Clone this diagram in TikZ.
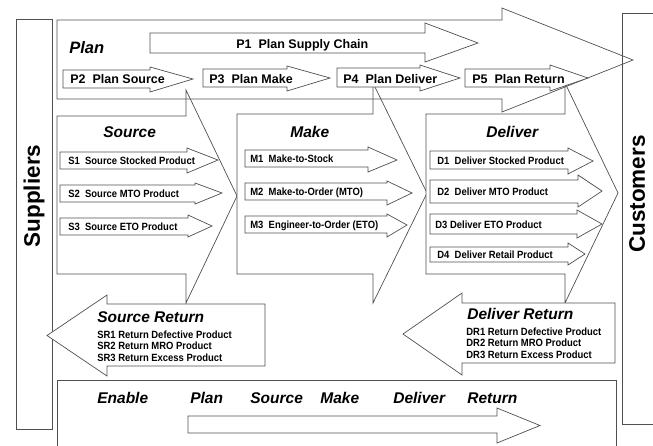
\documentclass[tikz,border=0pt]{standalone}
\usepackage{fontspec}
\setmainfont{Liberation Sans}
\newfontfamily\narrowsans[FakeStretch=0.9]{Liberation Sans}
\usepackage{tikz}
\definecolor{rim}{RGB}{80, 80, 80}

% block arrow: x start, body top, body bottom, head x, head top, head bottom, tip x, tip y
\newcommand{\blockarrow}[8]{%
  \filldraw [blk] (#1, #2) -- (#4, #2) -- (#4, #5) -- (#7, #8) -- (#4, #6) -- (#4, #3) -- (#1, #3) -- cycle;}

\begin{document}
\begin{tikzpicture}[x=1pt, y=-1pt, line width=0.7pt,
    blk/.style={draw=rim, fill=white},
    ttl/.style={font=\bfseries\itshape\fontsize{15.5}{18}\selectfont, anchor=base west, inner sep=0pt},
    ptag/.style={font=\bfseries\fontsize{12.5}{14}\selectfont, anchor=base west, inner sep=0pt},
    itm/.style={font=\narrowsans\bfseries\fontsize{10.5}{12}\selectfont, anchor=base west, inner sep=0pt},
    sidelbl/.style={font=\bfseries\fontsize{22.5}{26}\selectfont, rotate=90, inner sep=0pt}]
  \useasboundingbox (0, 0) rectangle (653, 445);

  \draw [draw=rim] (16, 19) rectangle (52, 429);
  \node [sidelbl] (suppliers) at (34, 196) {Suppliers};
  \draw [draw=rim] (622, 13) rectangle (660, 424);
  \node [sidelbl] (customers) at (637, 194) {Customers};

  \blockarrow{57}{116}{274}{186}{90}{303}{237}{196}
  \blockarrow{237}{114}{274}{373}{83}{303}{427}{193}
  \blockarrow{426}{114}{274}{565}{83}{303}{618}{193}

  \draw [draw=rim] (57, 20) -- (502, 20) -- (502, 8) -- (633, 60) -- (502, 112) -- (502, 99) -- (57, 99) -- cycle;
  \node [ttl, font=\bfseries\itshape\fontsize{16.5}{19}\selectfont] (plan) at (69, 53) {Plan};

  \blockarrow{150}{33}{53}{425}{23}{62}{478}{43}
  \node [ptag] (p1) at (236, 48) {P1\ \ Plan Supply Chain};
  \blockarrow{63}{70}{88}{150}{67}{92}{193}{79}
  \node [ptag] (p2) at (70, 83) {P2\ \ Plan Source};
  \blockarrow{203}{69}{87}{287}{66}{91}{330}{78}
  \node [ptag] (p3) at (209, 83) {P3\ \ Plan Make};
  \blockarrow{337}{68}{87}{420}{65}{91}{460}{78}
  \node [ptag] (p4) at (343, 83) {P4\ \ Plan Deliver};
  \blockarrow{465}{69}{87}{550}{65}{91}{588}{78}
  \node [ptag] (p5) at (472, 83) {P5\ \ Plan Return};

  \node [ttl] (source) at (103, 137) {Source};
  \blockarrow{60}{152}{169}{187}{148}{173}{218}{160}
  \node [itm] (s1) at (68, 164.5) {S1\ \ Source Stocked Product};
  \blockarrow{60}{185}{202}{195}{183}{204}{222}{193}
  \node [itm] (s2) at (68, 197.5) {S2\ \ Source MTO Product};
  \blockarrow{60}{218}{235}{188}{215}{237}{212}{226}
  \node [itm] (s3) at (68, 230.5) {S3\ \ Source ETO Product};

  \node [ttl] (make) at (290, 137) {Make};
  \blockarrow{245}{150}{167}{368}{147}{172}{397}{160}
  \node [itm] (m1) at (250, 162.5) {M1\ \ Make-to-Stock};
  \blockarrow{245}{183}{200}{387}{181}{205}{412}{193}
  \node [itm] (m2) at (250, 195.5) {M2\ \ Make-to-Order (MTO)};
  \blockarrow{245}{216}{233}{387}{214}{237}{407}{225}
  \node [itm] (m3) at (250, 228.5) {M3\ \ Engineer-to-Order (ETO)};

  \node [ttl] (deliver) at (486, 137) {Deliver};
  \blockarrow{430}{151}{169}{568}{148}{174}{593}{161}
  \node [itm] (d1) at (437, 164) {D1\ \ Deliver Stocked Product};
  \blockarrow{430}{180}{203}{578}{175}{207}{602}{191}
  \node [itm] (d2) at (437, 195.5) {D2\ \ Deliver MTO Product};
  \blockarrow{430}{214}{234}{577}{210}{238}{602}{224}
  \node [itm] (d3) at (435, 228) {D3 Deliver ETO Product};
  \blockarrow{430}{247}{262}{568}{243}{265}{585}{254}
  \node [itm] (d4) at (437, 258.5) {D4\ \ Deliver Retail Product};

  \blockarrow{265}{304}{366}{107}{295}{376}{47}{335.5}
  \node [ttl] (sreturn) at (97, 322) {Source Return};
  \node [itm] (sr1) at (97, 338) {SR1 Return Defective Product};
  \node [itm] (sr2) at (97, 349.5) {SR2 Return MRO Product};
  \node [itm] (sr3) at (97, 361) {SR3 Return Excess Product};

  \blockarrow{615}{303}{363}{462}{293}{375}{403}{334}
  \node [ttl] (dreturn) at (467, 319) {Deliver Return};
  \node [itm] (dr1) at (466, 335) {DR1 Return Defective Product};
  \node [itm] (dr2) at (466, 346.5) {DR2 Return MRO Product};
  \node [itm] (dr3) at (466, 358) {DR3 Return Excess Product};

  \draw [draw=rim] (57, 450) -- (57, 380) -- (616, 380) -- (616, 450);
  \node [ttl] (enable) at (97, 403) {Enable};
  \node [ttl] (eplan) at (190, 403) {Plan};
  \node [ttl] (esource) at (250, 403) {Source};
  \node [ttl] (emake) at (320, 403) {Make};
  \node [ttl] (edeliver) at (393, 403) {Deliver};
  \node [ttl] (ereturn) at (467, 403) {Return};
  \blockarrow{188}{416}{433}{497}{408}{443}{540}{425.5}
\end{tikzpicture}
\end{document}
